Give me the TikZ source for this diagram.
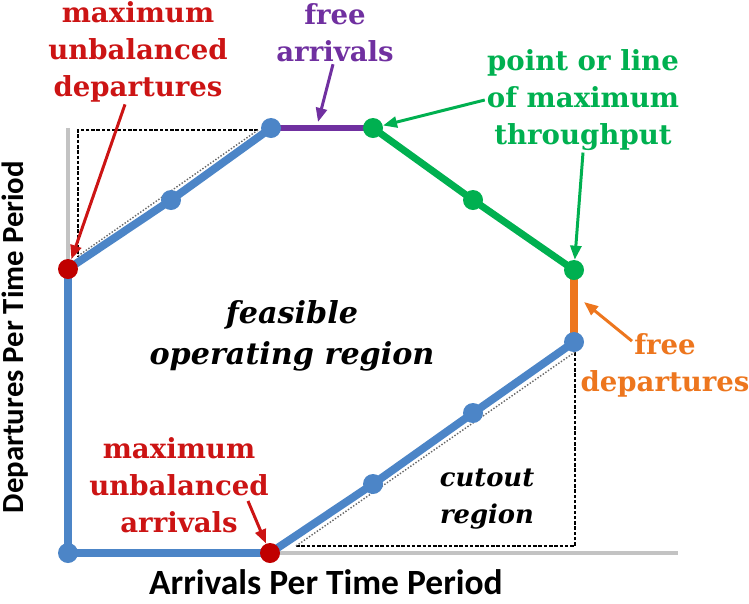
\documentclass[tikz,border=0pt]{standalone}
\usepackage{fontspec}
\setmainfont{DejaVu Serif}
\setsansfont{Carlito}
\usetikzlibrary{arrows.meta}
\pgfdeclarelayer{background}
\pgfsetlayers{background,main}

\definecolor{regblue}{RGB}{76,133,199}
\definecolor{ptred}{RGB}{192,0,0}
\definecolor{txtred}{RGB}{204,20,20}
\definecolor{thrgreen}{RGB}{0,176,80}
\definecolor{arrpurple}{RGB}{112,48,160}
\definecolor{deporange}{RGB}{237,118,30}
\definecolor{axisgray}{RGB}{195,195,195}

\tikzset{
  dot/.style={circle, inner sep=0pt, minimum size=0.4cm},
  lbl/.style={align=center, inner sep=1pt, font=\fontsize{15.7}{21}\selectfont\bfseries},
  ital/.style={align=center, inner sep=1pt, font=\fontsize{17.2}{23.3}\selectfont\bfseries\itshape},
  axislbl/.style={inner sep=0pt, font=\fontsize{20.2}{22}\selectfont\sffamily\bfseries},
  pointer/.style={-{Triangle[length=0.28cm, width=0.22cm]}, line width=1.7pt},
  cutedge/.style={black, line width=1pt, dash pattern=on 2pt off 1pt},
  cutdiag/.style={black!60, line width=0.8pt, densely dotted},
}

\begin{document}
\begin{tikzpicture}[x=0.02cm, y=-0.02cm]
  \useasboundingbox (0,0) rectangle (749,603);

  % corners of the operating region
  \node[dot, fill=regblue] (o) at (68,553) {};
  \node[dot, fill=ptred] (mud) at (68,269) {};
  \node[dot, fill=regblue] (b1) at (171,200) {};
  \node[dot, fill=regblue] (b2) at (271,128) {};
  \node[dot, fill=thrgreen] (g1) at (373,128) {};
  \node[dot, fill=thrgreen] (g2) at (473,200) {};
  \node[dot, fill=thrgreen] (g3) at (574,270) {};
  \node[dot, fill=regblue] (b3) at (574,342) {};
  \node[dot, fill=regblue] (b4) at (473,413) {};
  \node[dot, fill=regblue] (b5) at (373,484) {};
  \node[dot, fill=ptred] (mua) at (270,553) {};

  \coordinate (ytop) at (68,128);
  \coordinate (xend) at (678,553);
  \coordinate (ulA) at (78,130);
  \coordinate (ulB) at (258,130);
  \coordinate (ulC) at (78,256);
  \coordinate (lrA) at (296,546);
  \coordinate (lrB) at (575,546);
  \coordinate (lrC) at (575,352);
  \coordinate (fa) at (318,122);
  \coordinate (fd) at (584,302);

  \begin{pgfonlayer}{background}
    \draw[axisgray, line width=2.3pt] (ytop) -- (mud.center);
    \draw[axisgray, line width=2.3pt] (mua.center) -- (xend);
    \draw[cutedge] (ulB) -- (ulA) -- (ulC);
    \draw[cutdiag] (ulC) -- (ulB);
    \draw[cutedge] (lrA) -- (lrB) -- (lrC);
    \draw[cutdiag] (lrC) -- (lrA);
    \draw[regblue, line width=4.5pt, line join=round]
      (b2.center) -- (b1.center) -- (mud.center) -- (o.center)
      -- (mua.center) -- (b5.center) -- (b4.center) -- (b3.center);
    \draw[arrpurple, line width=3.4pt] (b2.center) -- (g1.center);
    \draw[thrgreen, line width=4pt, line join=round]
      (g1.center) -- (g2.center) -- (g3.center);
    \draw[deporange, line width=4pt] (g3.center) -- (b3.center);
  \end{pgfonlayer}

  % labels
  \node[lbl, text=txtred] (lmud) at (138,52) {maximum\\unbalanced\\departures};
  \node[lbl, text=arrpurple] (lfa) at (335,33) {free\\arrivals};
  \node[lbl, text=thrgreen] (lgr) at (583,100) {point or line\\of maximum\\throughput};
  \node[lbl, text=deporange] (lfd) at (665,365) {free\\departures};
  \node[lbl, text=txtred] (lmua) at (179,485) {maximum\\unbalanced\\arrivals};
  \node[ital] (lfeas) at (292,336) {feasible\\operating region};
  \node[lbl, font=\fontsize{14.7}{21.5}\selectfont\bfseries\itshape] (lcut) at (487,499) {cutout\\region};
  \node[axislbl] (xlab) at (326,582) {Arrivals Per Time Period};
  \node[axislbl, font=\fontsize{17.5}{20}\selectfont\sffamily\bfseries, rotate=90] (ylab) at (15,337) {Departures Per Time Period};

  % pointers
  \draw[pointer, txtred] ([xshift=-0.26cm]lmud.south) -- (mud);
  \draw[pointer, arrpurple] ([xshift=-0.04cm]lfa.south) -- (fa);
  \draw[pointer, thrgreen] (lgr.west) -- (g1);
  \draw[pointer, thrgreen] (lgr.south) -- (g3);
  \draw[pointer, deporange] ([shift={(-33,10)}]lfd.north) -- (fd);
  \draw[pointer, txtred] ([xshift=1.38cm, yshift=-0.32cm]lmua.center) -- (mua);
\end{tikzpicture}
\end{document}
